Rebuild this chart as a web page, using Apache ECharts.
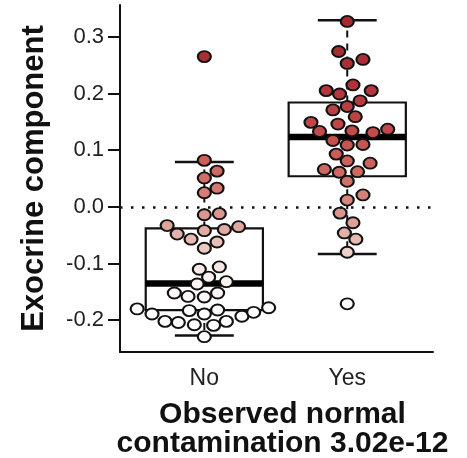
<!DOCTYPE html>
<html>
<head>
<meta charset="utf-8">
<script src="https://cdn.jsdelivr.net/npm/echarts@6/dist/echarts.min.js"></script>
<style>
  html, body { margin: 0; padding: 0; background: #fff; }
  #chart { width: 467px; height: 458px; }
</style>
</head>
<body>
<div id="chart"></div>
<script>
var groups = ['No', 'Yes'];
var yTicks = [-0.2, -0.1, 0.0, 0.1, 0.2, 0.3];

// box stats per group: [lower whisker, Q1, median, Q3, upper whisker]
var boxNo = [-0.227, -0.182, -0.135, -0.038, 0.079];
var boxYes = [-0.083, 0.054, 0.123, 0.184, 0.329];

// points (value) and their horizontal jitter (in category units)
var noValues = [0.265, 0.082, 0.063, 0.051, 0.033, 0.025, -0.014, -0.012, -0.033, -0.048,
  -0.057, -0.042, -0.040, -0.035, -0.073, -0.062, -0.110, -0.106, -0.124, -0.136,
  -0.132, -0.152, -0.158, -0.159, -0.152, -0.180, -0.189, -0.202, -0.204, -0.183,
  -0.208, -0.189, -0.229, -0.209, -0.182, -0.202, -0.193, -0.186, -0.178];
var noJitter = [0, 0, 0.089, 0, 0.089, 0, 0, 0.105, -0.26, -0.19,
  -0.093, 0, 0.14, 0.24, 0, 0.089, -0.035, 0.105, 0.03, -0.05,
  0.154, -0.21, -0.114, 0, 0.093, -0.47, -0.366, -0.275, -0.182, -0.105,
  -0.07, 0, 0, 0.065, 0.093, 0.154, 0.263, 0.345, 0.45];

var yesValues = [0.327, 0.274, 0.253, 0.260, 0.215, 0.205, 0.199, 0.205, 0.187, 0.177,
  0.171, 0.159, 0.149, 0.146, 0.133, 0.134, 0.131, 0.137, 0.117, 0.109,
  0.110, 0.093, 0.081, 0.077, 0.066, 0.061, 0.062, 0.045, 0.021, 0.012,
  -0.011, -0.028, -0.046, -0.057, -0.080, -0.171];
var yesJitter = [0, -0.06, 0, 0.11, 0.04, -0.147, -0.054, 0.168, 0.09, 0,
  -0.1, 0.056, -0.254, -0.065, -0.194, 0.033, 0.18, 0.283, -0.1, 0,
  0.11, -0.077, 0, 0.16, -0.16, -0.056, 0.072, 0, 0.11, 0,
  -0.05, 0.04, -0.02, 0.06, 0, 0];

var points = [];
noValues.forEach(function (v, i) { points.push([1 + noJitter[i], v]); });
yesValues.forEach(function (v, i) { points.push([2 + yesJitter[i], v]); });

var boxData = [[1].concat(boxNo), [2].concat(boxYes)];

var chart = echarts.init(document.getElementById('chart'));

function renderBox(params, api) {
  var x = api.value(0);
  var lo = api.value(1), q1 = api.value(2), med = api.value(3), q3 = api.value(4), hi = api.value(5);
  var hw = 0.41, cw = 0.206;
  var tl = api.coord([x - hw, q3]);
  var br = api.coord([x + hw, q1]);
  var mL = api.coord([x - hw, med]);
  var mR = api.coord([x + hw, med]);
  var top = api.coord([x, hi]);
  var bot = api.coord([x, lo]);
  var q3c = api.coord([x, q3]);
  var q1c = api.coord([x, q1]);
  var capL1 = api.coord([x - cw, hi]), capR1 = api.coord([x + cw, hi]);
  var capL2 = api.coord([x - cw, lo]), capR2 = api.coord([x + cw, lo]);
  var stroke = { stroke: '#111', lineWidth: 2.2, fill: null };
  var dashed = { stroke: '#111', lineWidth: 2, lineDash: [7, 6] };
  return {
    type: 'group',
    children: [
      { type: 'line', shape: { x1: q3c[0], y1: q3c[1], x2: top[0], y2: top[1] }, style: dashed },
      { type: 'line', shape: { x1: q1c[0], y1: q1c[1], x2: bot[0], y2: bot[1] }, style: dashed },
      { type: 'line', shape: { x1: capL1[0], y1: capL1[1], x2: capR1[0], y2: capR1[1] }, style: { stroke: '#111', lineWidth: 2.5 } },
      { type: 'line', shape: { x1: capL2[0], y1: capL2[1], x2: capR2[0], y2: capR2[1] }, style: { stroke: '#111', lineWidth: 2.5 } },
      { type: 'rect', shape: { x: tl[0], y: tl[1], width: br[0] - tl[0], height: br[1] - tl[1] }, style: stroke },
      { type: 'line', shape: { x1: mL[0], y1: mL[1], x2: mR[0], y2: mR[1] }, style: { stroke: '#000', lineWidth: 6.5 } }
    ]
  };
}

var option = {
  backgroundColor: '#fff',
  animation: false,
  grid: { left: 120, right: 34, top: 5, bottom: 106, containLabel: false, outerBoundsMode: 'none' },
  xAxis: {
    type: 'value',
    min: 0.41,
    max: 2.6,
    name: 'Observed normal\ncontamination 3.02e-12',
    nameLocation: 'middle',
    nameGap: 48,
    nameTextStyle: { fontFamily: 'Liberation Sans', fontWeight: 'bold', fontSize: 30, color: '#111', lineHeight: 29, padding: [0, 0, 0, 12] },
    axisLine: { show: true, onZero: false, lineStyle: { color: '#111', width: 2 } },
    axisTick: { show: false },
    splitLine: { show: false },
    axisLabel: {
      customValues: [1, 2],
      formatter: function (v) { return groups[Math.round(v) - 1]; },
      fontFamily: 'Liberation Sans', fontSize: 23, color: '#222', margin: 15
    }
  },
  yAxis: {
    type: 'value',
    min: -0.256,
    max: 0.356,
    name: 'Exocrine component',
    nameLocation: 'middle',
    nameGap: 70,
    nameTextStyle: { fontFamily: 'Liberation Sans', fontWeight: 'bold', fontSize: 31, color: '#111' },
    axisLine: { show: true, onZero: false, lineStyle: { color: '#111', width: 2 } },
    axisTick: { show: true, customValues: yTicks, length: 12, lineStyle: { color: '#111', width: 2 } },
    splitLine: { show: false },
    axisLabel: {
      customValues: yTicks,
      formatter: function (v) { return v.toFixed(1); },
      fontFamily: 'Liberation Sans', fontSize: 22, color: '#222', margin: 16
    }
  },
  visualMap: {
    show: false,
    type: 'continuous',
    seriesIndex: 1,
    dimension: 1,
    min: -0.2,
    max: 0.3,
    inRange: { color: ['#ffffff', '#fbf0ee', '#dea49c', '#d06e66', '#c24a4a', '#b0333a', '#a52a30'] }
  },
  series: [
    {
      type: 'custom',
      renderItem: renderBox,
      data: boxData,
      z: 1,
      silent: true,
      markLine: {
        silent: true,
        symbol: 'none',
        label: { show: false },
        lineStyle: { type: [2.5, 8.5], color: '#111', width: 2.5 },
        data: [{ yAxis: 0 }]
      }
    },
    {
      type: 'scatter',
      data: points,
      z: 3,
      symbol: 'circle',
      symbolSize: [13, 11],
      itemStyle: { borderColor: '#111', borderWidth: 2, opacity: 1 }
    }
  ]
};

chart.setOption(option);
</script>
</body>
</html>
